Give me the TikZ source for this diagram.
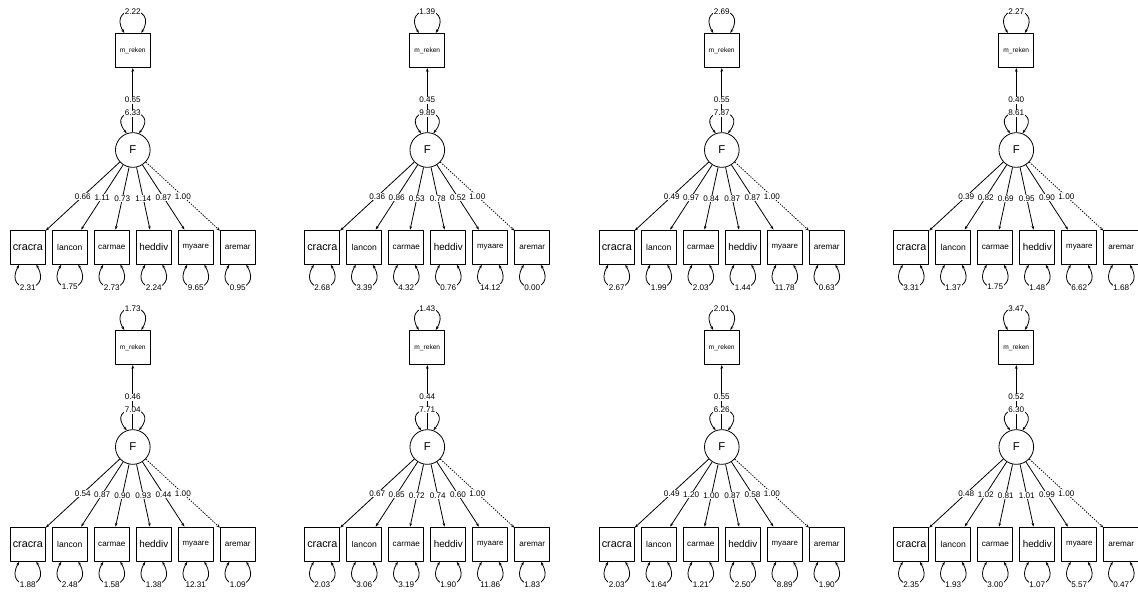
\documentclass[tikz,border=0pt]{standalone}
\usepackage{fontspec}
\setmainfont{Liberation Sans}
\usetikzlibrary{arrows.meta}

\begin{document}
\begin{tikzpicture}[x=0.75pt, y=-0.75pt, >={Stealth[length=2.8pt,width=2pt]}, line width=0.6pt, line join=round]

    % Styles for the path diagrams
    \tikzset{
        obs/.style={draw, rectangle, minimum width=26.2pt, minimum height=25.7pt, inner sep=0pt},
        lat/.style={draw, circle, minimum size=26pt, inner sep=0pt, font=\fontsize{8.5}{9}\selectfont},
        lbl/.style={fill=white, inner sep=0.4pt, font=\fontsize{6.1}{7}\selectfont},
        fixed/.style={dash pattern=on 1pt off 1pt}
    }

    \useasboundingbox (0,0) rectangle (1138,593);
    \clip (0,0) rectangle (1138,593);

    % One panel per group: shift, var(m_reken), regression, var(F), loadings, residuals
    \foreach \px/\py/\vm/\rg/\vf/\la/\lb/\lc/\ld/\le/\lf/\ra/\rb/\rc/\rd/\re/\rf [count=\p] in {
        0/0/2.22/0.65/6.33/0.66/1.11/0.73/1.14/0.87/1.00/2.31/1.75/2.73/2.24/9.65/0.95,
        294.5/0/1.39/0.45/9.89/0.36/0.86/0.53/0.78/0.52/1.00/2.68/3.39/4.32/0.76/14.12/0.00,
        589/0/2.69/0.55/7.87/0.49/0.97/0.84/0.87/0.87/1.00/2.67/1.99/2.03/1.44/11.78/0.63,
        883.5/0/2.27/0.40/8.61/0.39/0.82/0.69/0.95/0.90/1.00/3.31/1.37/1.75/1.48/6.62/1.68,
        0/297/1.73/0.46/7.04/0.54/0.87/0.90/0.93/0.44/1.00/1.88/2.48/1.58/1.38/12.31/1.09,
        294.5/297/1.43/0.44/7.71/0.67/0.85/0.72/0.74/0.60/1.00/2.03/3.06/3.19/1.90/11.86/1.83,
        589/297/2.01/0.55/6.26/0.49/1.20/1.00/0.87/0.58/1.00/2.03/1.64/1.21/2.50/8.89/1.90,
        883.5/297/3.47/0.52/6.30/0.48/1.02/0.81/1.01/0.99/1.00/2.35/1.93/3.00/1.07/5.57/0.47}{
    \begin{scope}[shift={(\px,\py)}]
        \node[obs, font=\fontsize{4.95}{6}\selectfont] (mr\p) at (132.8, 50.5) {m\_reken};
        \node[lat] (F\p) at (132.8, 150) {F};

        % Regression and variances at the top
        \draw[->] (F\p) -- (mr\p) node[midway, lbl] {\rg};
        \draw[<->] ([shift={(-8.5,0)}]mr\p.north) .. controls +(-17.5,-29) and +(17.5,-29) .. ([shift={(8.5,0)}]mr\p.north) node[midway, lbl] {\vm};
        \draw[<->] (F\p.110) .. controls +(-22,-27) and +(22,-27) .. (F\p.70) node[midway, lbl] {\vf};

        % Indicators, loadings and residuals
        \foreach \nm/\fs/\ls/\rs/\st [count=\k] in {cracra/8.1/\la/\ra/solid, lancon/6.4/\lb/\rb/solid,
                carmae/6.1/\lc/\rc/solid, heddiv/7.4/\ld/\rd/solid, myaare/5.9/\le/\re/solid, aremar/6.1/\lf/\rf/fixed}{
            \node[obs, font=\fontsize{\fs}{9}\selectfont] (\nm\p) at (132.8+42*\k-147, 247.2) {\nm};
            \draw[->, \st] (F\p) -- (\nm\p) node[midway, lbl] {\ls};
            \draw[<->] ([shift={(-8.5,0)}]\nm\p.south) .. controls +(-17.5,30) and +(17.5,30) .. ([shift={(8.5,0)}]\nm\p.south) node[midway, lbl] {\rs};
        }
    \end{scope}
    }

\end{tikzpicture}
\end{document}
